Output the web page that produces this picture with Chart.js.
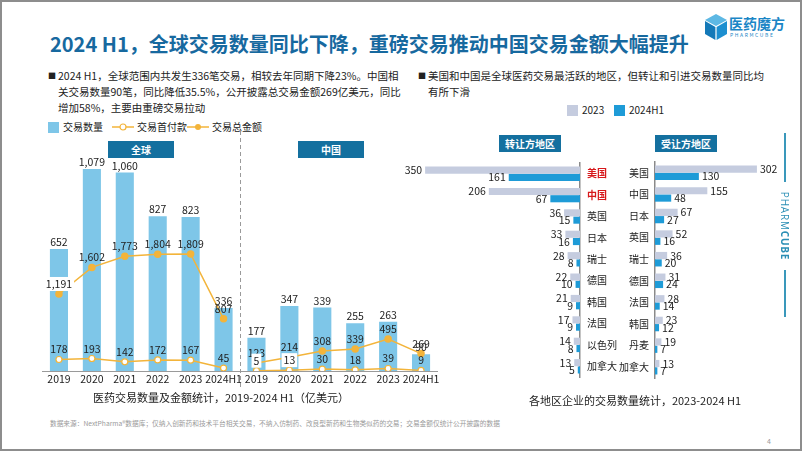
<!DOCTYPE html>
<html>
<head>
<meta charset="utf-8">
<script src="https://cdn.jsdelivr.net/npm/chart.js@4.4.1/dist/chart.umd.min.js"></script>
<style>
  html, body { margin: 0; padding: 0; }
  body { width: 802px; height: 451px; position: relative; overflow: hidden; background: #fff;
         font-family: 'Noto Sans CJK SC', 'Noto Sans', sans-serif; color: #222; }
  .frame { position: absolute; left: 0; top: 0; width: 802px; height: 451px; box-sizing: border-box; border: 2px solid #8d8d8d; }
  .abs { position: absolute; white-space: nowrap; }
  .title { left: 50px; top: 30px; font-size: 20px; font-weight: bold; color: #17699f; line-height: 28px; }
  .bullet { font-size: 10.5px; line-height: 16px; color: #222; }
  .bullet .sq { display: inline-block; width: 10px; font-size: 8px; vertical-align: 1px; }
  .tag { background: #14709f; color: #fff; font-size: 10px; font-weight: bold; text-align: center; line-height: 17px; height: 17px; }
  .legend { font-size: 10px; line-height: 12px; color: #222; }
  .box { display: inline-block; width: 11px; height: 11px; vertical-align: -2px; margin-right: 4px; }
  .caption { font-size: 11px; color: #222; transform: translateX(-50%); }
  canvas { position: absolute; }
</style>
</head>
<body>
<div class="frame"></div>

<svg class="abs" style="left:704px;top:13px" width="24" height="28" viewBox="0 0 24 28">
  <polygon points="12,1 23,7 12,13 1,7" fill="#5db8e4"/>
  <polygon points="1,8 11.4,14 11.4,27 1,21" fill="#1479b8"/>
  <polygon points="12.6,14 23,8 23,21 12.6,27" fill="#1d8fd0"/>
</svg>
<div class="abs" style="left:729px;top:14px;font-size:14px;font-weight:bold;color:#1b86c6;line-height:18px;">医药魔方</div>
<div class="abs" style="left:730px;top:32px;font-size:5px;letter-spacing:1.6px;color:#1b86c6;line-height:6px;">PHARMCUBE</div>

<div class="abs title">2024 H1，全球交易数量同比下降，重磅交易推动中国交易金额大幅提升</div>

<div class="abs bullet" style="left:48px;top:68px;">
  <span class="sq">■</span>2024 H1，全球范围内共发生336笔交易，相较去年同期下降23%。中国相<br>
  <span class="sq"></span>关交易数量90笔，同比降低35.5%，公开披露总交易金额269亿美元，同比<br>
  <span class="sq"></span>增加58%，主要由重磅交易拉动
</div>
<div class="abs bullet" style="left:418px;top:68px;">
  <span class="sq">■</span>美国和中国是全球医药交易最活跃的地区，但转让和引进交易数量同比均<br>
  <span class="sq"></span>有所下滑
</div>

<div class="abs legend" style="left:48px;top:121px;">
  <span class="box" style="background:#7ec6e8"></span>交易数量
</div>
<div class="abs legend" style="left:112px;top:121px;">
  <svg width="22" height="10" style="vertical-align:-1px;margin-right:3px"><line x1="0" y1="5" x2="22" y2="5" stroke="#f3b43a" stroke-width="1.5"/><circle cx="11" cy="5" r="3" fill="#fff" stroke="#f3b43a" stroke-width="1.2"/></svg>交易首付款
</div>
<div class="abs legend" style="left:187px;top:121px;">
  <svg width="22" height="10" style="vertical-align:-1px;margin-right:3px"><line x1="0" y1="5" x2="22" y2="5" stroke="#f3b43a" stroke-width="1.5"/><circle cx="11" cy="5" r="3" fill="#f3b43a"/></svg>交易总金额
</div>

<div class="abs legend" style="left:567px;top:104px;">
  <span class="box" style="background:#c5ccdf"></span>2023
</div>
<div class="abs legend" style="left:614px;top:104px;">
  <span class="box" style="background:#1e9bd7"></span>2024H1
</div>

<div class="abs tag" style="left:108px;top:141px;width:66px;">全球</div>
<div class="abs tag" style="left:298px;top:141px;width:66px;">中国</div>
<div class="abs tag" style="left:499px;top:135px;width:62px;">转让方地区</div>
<div class="abs tag" style="left:655px;top:135px;width:62px;">受让方地区</div>

<canvas id="dealChart" width="406" height="271" style="left:37px;top:122px;"></canvas>
<canvas id="outChart" width="230" height="240" style="left:398px;top:150px;"></canvas>
<canvas id="inChart" width="190" height="240" style="left:610px;top:150px;"></canvas>

<div class="abs caption" style="left:221px;top:389px;">医药交易数量及金额统计，2019-2024 H1（亿美元）</div>
<div class="abs caption" style="left:635px;top:392px;">各地区企业的交易数量统计，2023-2024 H1</div>

<div class="abs" style="left:50px;top:418px;font-size:6.7px;color:#9a9a9a;">数据来源：NextPharma®数据库；仅纳入创新药和技术平台相关交易，不纳入仿制药、改良型新药和生物类似药的交易；交易金额仅统计公开披露的数据</div>
<div class="abs" style="left:767px;top:436px;font-size:7px;color:#9a9a9a;">4</div>

<div class="abs" style="left:784px;top:133px;width:1.5px;height:49px;background:#3a98bb;"></div>
<div class="abs" style="left:745px;top:220px;width:80px;height:12px;line-height:12px;text-align:center;font-size:10px;letter-spacing:0.8px;color:#2b8fb5;transform:rotate(90deg);font-family:'Open Sans',sans-serif;">PHARM<b>CUBE</b></div>
<div class="abs" style="left:784px;top:270px;width:1.5px;height:47px;background:#3a98bb;"></div>

<script>
const years = ['2019', '2020', '2021', '2022', '2023', '2024H1'];
const globalDeals = [652, 1079, 1060, 827, 823, 336];
const chinaDeals = [177, 347, 339, 255, 263, 90];
const globalTotal = [1191, 1602, 1773, 1804, 1809, 807];
const globalUpfront = [178, 193, 142, 172, 167, 45];
const chinaTotal = [123, 214, 308, 339, 495, 269];
const chinaUpfront = [5, 13, 30, 18, 39, 9];

const outRegions = ['美国', '中国', '英国', '日本', '瑞士', '德国', '韩国', '法国', '以色列', '加拿大'];
const out2023 = [350, 206, 36, 33, 28, 22, 21, 17, 14, 13];
const outH1 = [161, 67, 15, 16, 8, 10, 9, 9, 8, 5];
const inRegions = ['美国', '中国', '日本', '英国', '瑞士', '德国', '法国', '韩国', '丹麦', '加拿大'];
const in2023 = [302, 155, 67, 52, 36, 31, 28, 23, 19, 13];
const inH1 = [130, 48, 27, 16, 20, 24, 14, 12, 7, 7];

const FONT = "'Noto Sans CJK SC', 'Noto Sans', sans-serif";
const GOLD = '#f3b43a';
const blanks = years.map(() => null);

// value labels above bars and line points
const dealLabels = {
  id: 'dealLabels',
  afterDatasetsDraw(chart) {
    const ctx = chart.ctx;
    ctx.save();
    ctx.font = '10.5px ' + FONT;
    ctx.textAlign = 'center';
    ctx.textBaseline = 'middle';
    chart.data.datasets.forEach((ds, di) => {
      chart.getDatasetMeta(di).data.forEach((el, i) => {
        const v = ds.data[i];
        if (v == null) return;
        const txt = v.toLocaleString('en-US');
        const y = el.y - (ds.type === 'line' ? 10 : 7);
        if (ds.boxed && ds.boxed.includes(i)) {
          const w = ctx.measureText(txt).width + 4;
          ctx.fillStyle = '#fff';
          ctx.fillRect(el.x - w / 2, y - 7, w, 14);
        }
        ctx.fillStyle = '#222';
        ctx.fillText(txt, el.x, y);
      });
    });
    ctx.restore();
  }
};

// dashed divider between global and China
const divider = {
  id: 'divider',
  afterDraw(chart) {
    const xs = chart.scales.x;
    const x = Math.round((xs.getPixelForValue(5) + xs.getPixelForValue(6)) / 2) + 0.5;
    const ctx = chart.ctx;
    ctx.save();
    ctx.strokeStyle = '#9a9a9a';
    ctx.lineWidth = 1;
    ctx.setLineDash([4, 3]);
    ctx.beginPath();
    ctx.moveTo(x, chart.chartArea.top);
    ctx.lineTo(x, chart.chartArea.bottom + 17);
    ctx.stroke();
    ctx.restore();
  }
};

new Chart(document.getElementById('dealChart'), {
  type: 'bar',
  data: {
    labels: years.concat(years),
    datasets: [
      { type: 'line', label: '交易总金额', data: globalTotal.concat(blanks), yAxisID: 'y2', order: 1,
        borderColor: GOLD, borderWidth: 1.5, pointBackgroundColor: GOLD, pointBorderColor: GOLD, pointRadius: 3, boxed: [0] },
      { type: 'line', label: '交易首付款', data: globalUpfront.concat(blanks), yAxisID: 'y2', order: 1,
        borderColor: GOLD, borderWidth: 1.5, pointBackgroundColor: '#fff', pointBorderColor: GOLD, pointBorderWidth: 1.2, pointRadius: 3 },
      { type: 'line', label: '交易总金额', data: blanks.concat(chinaTotal), yAxisID: 'y2', order: 1,
        borderColor: GOLD, borderWidth: 1.5, pointBackgroundColor: GOLD, pointBorderColor: GOLD, pointRadius: 3 },
      { type: 'line', label: '交易首付款', data: blanks.concat(chinaUpfront), yAxisID: 'y2', order: 1,
        borderColor: GOLD, borderWidth: 1.5, pointBackgroundColor: '#fff', pointBorderColor: GOLD, pointBorderWidth: 1.2, pointRadius: 3, boxed: [6, 7] },
      { type: 'bar', label: '交易数量', data: globalDeals.concat(chinaDeals), yAxisID: 'y', order: 2,
        backgroundColor: '#7ec6e8', barPercentage: 0.55, categoryPercentage: 1 }
    ]
  },
  options: {
    responsive: false,
    animation: false,
    layout: { padding: { left: 2, right: 4, top: 9, bottom: 5 } },
    plugins: { legend: { display: false }, tooltip: { enabled: false } },
    scales: {
      x: {
        grid: { display: false, drawTicks: false },
        border: { display: true, color: '#9a9a9a', width: 1 },
        ticks: { font: { size: 10.5, family: FONT }, color: '#222', padding: 2, autoSkip: false, maxRotation: 0 },
        afterFit: s => { s.height = 17; }
      },
      y: { display: false, min: 0, max: 1282 },
      y2: { display: false, min: 0, max: 3711 }
    }
  },
  plugins: [dealLabels, divider]
});

// labels at the ends of the horizontal bars
const barEndLabels = {
  id: 'barEndLabels',
  afterDatasetsDraw(chart) {
    const ctx = chart.ctx;
    const leftSide = chart.options.scales.x.reverse;
    ctx.save();
    ctx.font = '10.5px ' + FONT;
    ctx.textBaseline = 'middle';
    ctx.textAlign = leftSide ? 'right' : 'left';
    ctx.fillStyle = '#222';
    chart.data.datasets.forEach((ds, di) => {
      chart.getDatasetMeta(di).data.forEach((el, i) => {
        ctx.fillText(String(ds.data[i]), el.x + (leftSide ? -3 : 3), el.y);
      });
    });
    ctx.restore();
  }
};

function regionChart(id, regions, d2023, dH1, leftSide) {
  return new Chart(document.getElementById(id), {
    type: 'bar',
    data: {
      labels: regions,
      datasets: [
        { label: '2023', data: d2023, backgroundColor: '#c5ccdf', barPercentage: 0.98, categoryPercentage: 0.68 },
        { label: '2024H1', data: dH1, backgroundColor: '#1e9bd7', barPercentage: 0.98, categoryPercentage: 0.68 }
      ]
    },
    options: {
      indexAxis: 'y',
      responsive: false,
      animation: false,
      layout: { padding: leftSide ? { left: 5, top: 7, bottom: 7, right: 0 } : { left: 0, top: 7, bottom: 7, right: 10 } },
      plugins: { legend: { display: false }, tooltip: { enabled: false } },
      scales: {
        x: { display: false, min: 0, max: 400, reverse: leftSide },
        y: {
          position: leftSide ? 'right' : 'left',
          grid: { display: false, drawTicks: false },
          border: { display: true, color: '#8a8a8a', width: 1.5 },
          ticks: {
            padding: leftSide ? 7 : 6,
            color: ctx => (leftSide && ctx.index < 2) ? '#d7191c' : '#222',
            font: ctx => ({ size: 10, family: FONT, weight: (leftSide && ctx.index < 2) ? 'bold' : 'normal' })
          },
          afterFit: s => { s.width = leftSide ? 48 : 45; }
        }
      }
    },
    plugins: [barEndLabels]
  });
}

regionChart('outChart', outRegions, out2023, outH1, true);
regionChart('inChart', inRegions, in2023, inH1, false);
</script>
</body>
</html>
